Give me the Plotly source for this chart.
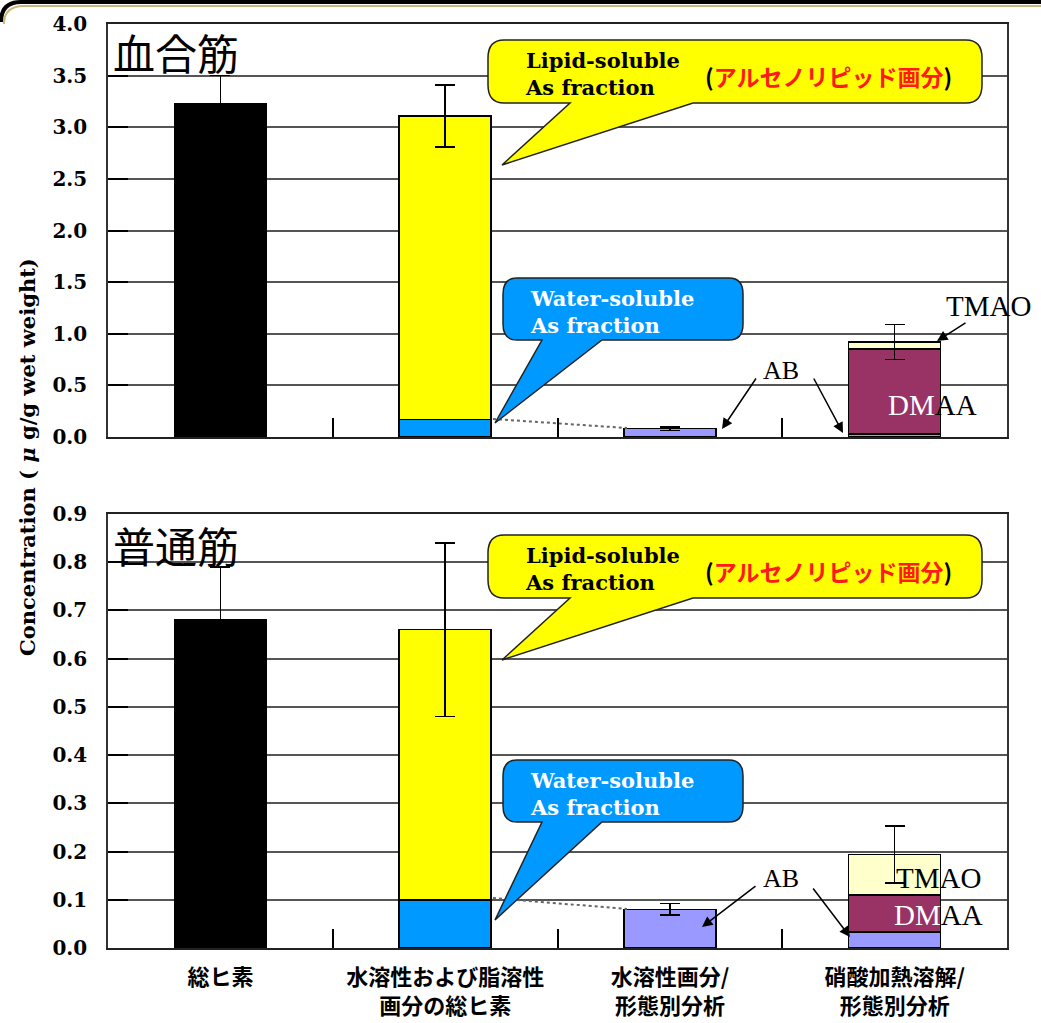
import plotly.graph_objects as go

# ---------------- data ----------------
categories = ["総ヒ素", "水溶性および脂溶性<br>画分の総ヒ素",
              "水溶性画分/<br>形態別分析", "硝酸加熱溶解/<br>形態別分析"]
panels = ["血合筋", "普通筋"]

total = [3.23, 0.68]
total_err = [0.27, 0.11]
water_sol = [0.17, 0.10]
lipid_sol = [2.94, 0.56]
lipid_err = [0.30, 0.18]
ab_water = [0.08, 0.08]
ab_water_err = [0.015, 0.012]
ab_nitric = [0.03, 0.033]
dmaa = [0.82, 0.077]
tmao = [0.07, 0.084]
nitric_err = [0.17, 0.059]

y_max = [4.0, 0.9]
y_dtick = [0.5, 0.1]

# ---------------- styles ----------------
C_TOTAL = "#000000"
C_WATER = "#0099FF"
C_LIPID = "#FFFF00"
C_AB = "#9999FF"
C_DMAA = "#993366"
C_TMAO = "#FFFFCC"
SERIF = "Liberation Serif"
BSERIF = "DejaVu Serif"
JP = "Noto Sans CJK JP"

W, H = 1041, 1023
L, R, T, B = 108, 1007, 24, 948


def fx(px):
    return (px - L) / (R - L)


def fy(py):
    return (B - py) / (B - T)


fig = go.Figure()
xpos = list(range(len(categories)))
BW = 0.41
line = dict(color="black", width=1.5)


def err(v):
    return dict(type="data", array=[v], visible=True, color="black", thickness=1.5, width=10)


for i in range(2):
    xa = "x" if i == 0 else "x2"
    ya = "y" if i == 0 else "y2"
    common = dict(xaxis=xa, yaxis=ya, width=BW, showlegend=False, hoverinfo="y")
    fig.add_trace(go.Bar(x=[xpos[0]], y=[total[i]], marker=dict(color=C_TOTAL, line=line),
                         error_y=err(total_err[i]), **common))
    fig.add_trace(go.Bar(x=[xpos[1]], y=[water_sol[i]], marker=dict(color=C_WATER, line=line), **common))
    fig.add_trace(go.Bar(x=[xpos[1]], y=[lipid_sol[i]], marker=dict(color=C_LIPID, line=line),
                         error_y=err(lipid_err[i]), **common))
    fig.add_trace(go.Bar(x=[xpos[2]], y=[ab_water[i]], marker=dict(color=C_AB, line=line),
                         error_y=err(ab_water_err[i]), **common))
    fig.add_trace(go.Bar(x=[xpos[3]], y=[ab_nitric[i]], marker=dict(color=C_AB, line=line), **common))
    fig.add_trace(go.Bar(x=[xpos[3]], y=[dmaa[i]], marker=dict(color=C_DMAA, line=line), **common))
    fig.add_trace(go.Bar(x=[xpos[3]], y=[tmao[i]], marker=dict(color=C_TMAO, line=line),
                         error_y=err(nitric_err[i]), **common))

yaxis_common = dict(tickmode="linear", tick0=0, tickformat=".1f",
                    ticks="inside", ticklen=20, tickcolor="black", tickwidth=1.5,
                    showgrid=True, gridcolor="#555555", gridwidth=1.5,
                    showline=True, linecolor="#333333", linewidth=1.5, mirror=True,
                    zeroline=False, ticklabelstandoff=15, automargin=False,
                    tickfont=dict(family=BSERIF, size=20, color="black", weight="bold"))
xaxis_common = dict(range=[-0.5, 3.5], tickmode="array", tickvals=xpos, ticktext=categories,
                    ticks="", showgrid=False, zeroline=False, automargin=False,
                    showline=True, linecolor="#222222", linewidth=1.5, mirror=True,
                    minor=dict(tickmode="array", tickvals=[0.5, 1.5, 2.5], ticks="inside",
                               ticklen=19, tickcolor="black", tickwidth=1.5, showgrid=False),
                    tickfont=dict(family=JP, size=22, color="black", weight="bold"))

top_bottom = fy(437)
bot_top = fy(514)

fig.update_layout(
    width=W, height=H, autosize=False,
    margin=dict(l=L, r=W - R, t=T, b=H - B, pad=0),
    paper_bgcolor="white", plot_bgcolor="white",
    barmode="stack", bargap=0.59,
    xaxis=dict(domain=[0, 1], anchor="y", showticklabels=False, **xaxis_common),
    xaxis2=dict(domain=[0, 1], anchor="y2", showticklabels=True, ticklabelstandoff=9, **xaxis_common),
    yaxis=dict(domain=[top_bottom, 1], anchor="x", range=[0, y_max[0]], dtick=y_dtick[0], **yaxis_common),
    yaxis2=dict(domain=[0, bot_top], anchor="x2", range=[0, y_max[1]], dtick=y_dtick[1], **yaxis_common),
)

shapes = []
annotations = []


def bubble(x0, x1, y0, y1, tb0, tb1, tip, rx, ry, fill):
    pts = [
        f"M {fx(x0 + rx)},{fy(y0)}",
        f"L {fx(x1 - rx)},{fy(y0)}",
        f"Q {fx(x1)},{fy(y0)} {fx(x1)},{fy(y0 + ry)}",
        f"L {fx(x1)},{fy(y1 - ry)}",
        f"Q {fx(x1)},{fy(y1)} {fx(x1 - rx)},{fy(y1)}",
        f"L {fx(tb1)},{fy(y1)}",
        f"L {fx(tip[0])},{fy(tip[1])}",
        f"L {fx(tb0)},{fy(y1)}",
        f"L {fx(x0 + rx)},{fy(y1)}",
        f"Q {fx(x0)},{fy(y1)} {fx(x0)},{fy(y1 - ry)}",
        f"L {fx(x0)},{fy(y0 + ry)}",
        f"Q {fx(x0)},{fy(y0)} {fx(x0 + rx)},{fy(y0)}",
        "Z",
    ]
    return dict(type="path", xref="paper", yref="paper", path=" ".join(pts),
                fillcolor=fill, line=dict(color="#222222", width=1.5), layer="above")


def txt(x, y, text, size, color="black", family=SERIF, weight="normal", xanchor="left", angle=0):
    return dict(x=fx(x), y=fy(y), xref="paper", yref="paper", text=text, showarrow=False,
                xanchor=xanchor, yanchor="middle", textangle=angle, align="left",
                font=dict(family=family, size=size, color=color, weight=weight))


def arrow(tail, head):
    return dict(x=fx(head[0]), y=fy(head[1]), xref="paper", yref="paper", text="",
                showarrow=True, ax=tail[0] - head[0], ay=tail[1] - head[1],
                arrowhead=2, arrowsize=1.4, arrowwidth=1.5, arrowcolor="black")


for i, off in enumerate([0, 495]):
    wtop = [419, 898][i]
    abtop = [428, 909][i]
    shapes.append(dict(type="line", xref="paper", yref="paper",
                       x0=fx(493), y0=fy(wtop), x1=fx(627), y1=fy(abtop),
                       line=dict(color="#666666", width=2, dash="dot")))
    # yellow bubble
    shapes.append(bubble(488, 982, 40 + off, 103 + off, 570, 693, (502, 165 + off), 16, 18, C_LIPID))
    annotations.append(txt(523, 74 + off, "Lipid-soluble<br>As fraction", 21,
                           family=BSERIF, weight="bold"))
    annotations.append(txt(703, 76 + off,
                           "(<span style='color:#FF1A1A'>アルセノリピッド画分</span>)",
                           23, family=JP, weight="bold"))
    # blue bubble
    boff = [0, 482][i]
    tip_y = [423, 920][i]
    shapes.append(bubble(503, 743, 278 + boff, 340 + boff, 542, 602, (495, tip_y), 14, 16, C_WATER))
    annotations.append(txt(528, 312 + boff, "Water-soluble<br>As fraction", 21,
                           color="white", family=BSERIF, weight="bold"))
    # panel titles
    annotations.append(txt(111, [51, 544][i], panels[i], 42, family=JP))

annotations += [
    txt(781, 370, "AB", 26, xanchor="center"),
    arrow((757, 377), (722, 429)),
    arrow((813, 377), (843, 433)),
    txt(988, 306, "TMAO", 29, xanchor="center"),
    arrow((967, 322), (937, 341)),
    txt(932, 405, "<span style='color:white'>DM</span>AA", 29, xanchor="center"),
    txt(781, 878, "AB", 26, xanchor="center"),
    arrow((757, 885), (702, 927)),
    arrow((812, 887), (850, 937)),
    txt(938, 878, "TMAO", 29, xanchor="center"),
    txt(938, 915, "<span style='color:white'>DM</span>AA", 29, xanchor="center"),
    txt(27, 457, "Concentration ( <i>μ</i> g/g wet weight)", 21, weight="bold",
        family=BSERIF, xanchor="center", angle=-90),
]

shapes.append(dict(type="path", xref="paper", yref="paper",
                   path=f"M {fx(4)},{fy(24)} Q {fx(4)},{fy(6)} {fx(24)},{fy(6)} L {fx(1041)},{fy(6)}",
                   line=dict(color="#C8B77A", width=2)))
shapes.append(dict(type="path", xref="paper", yref="paper",
                   path=f"M {fx(1)},{fy(22)} Q {fx(1)},{fy(2)} {fx(21)},{fy(2)} L {fx(1041)},{fy(2)}",
                   line=dict(color="black", width=4)))

fig.update_layout(shapes=shapes, annotations=annotations)
fig.write_html("out.html")
